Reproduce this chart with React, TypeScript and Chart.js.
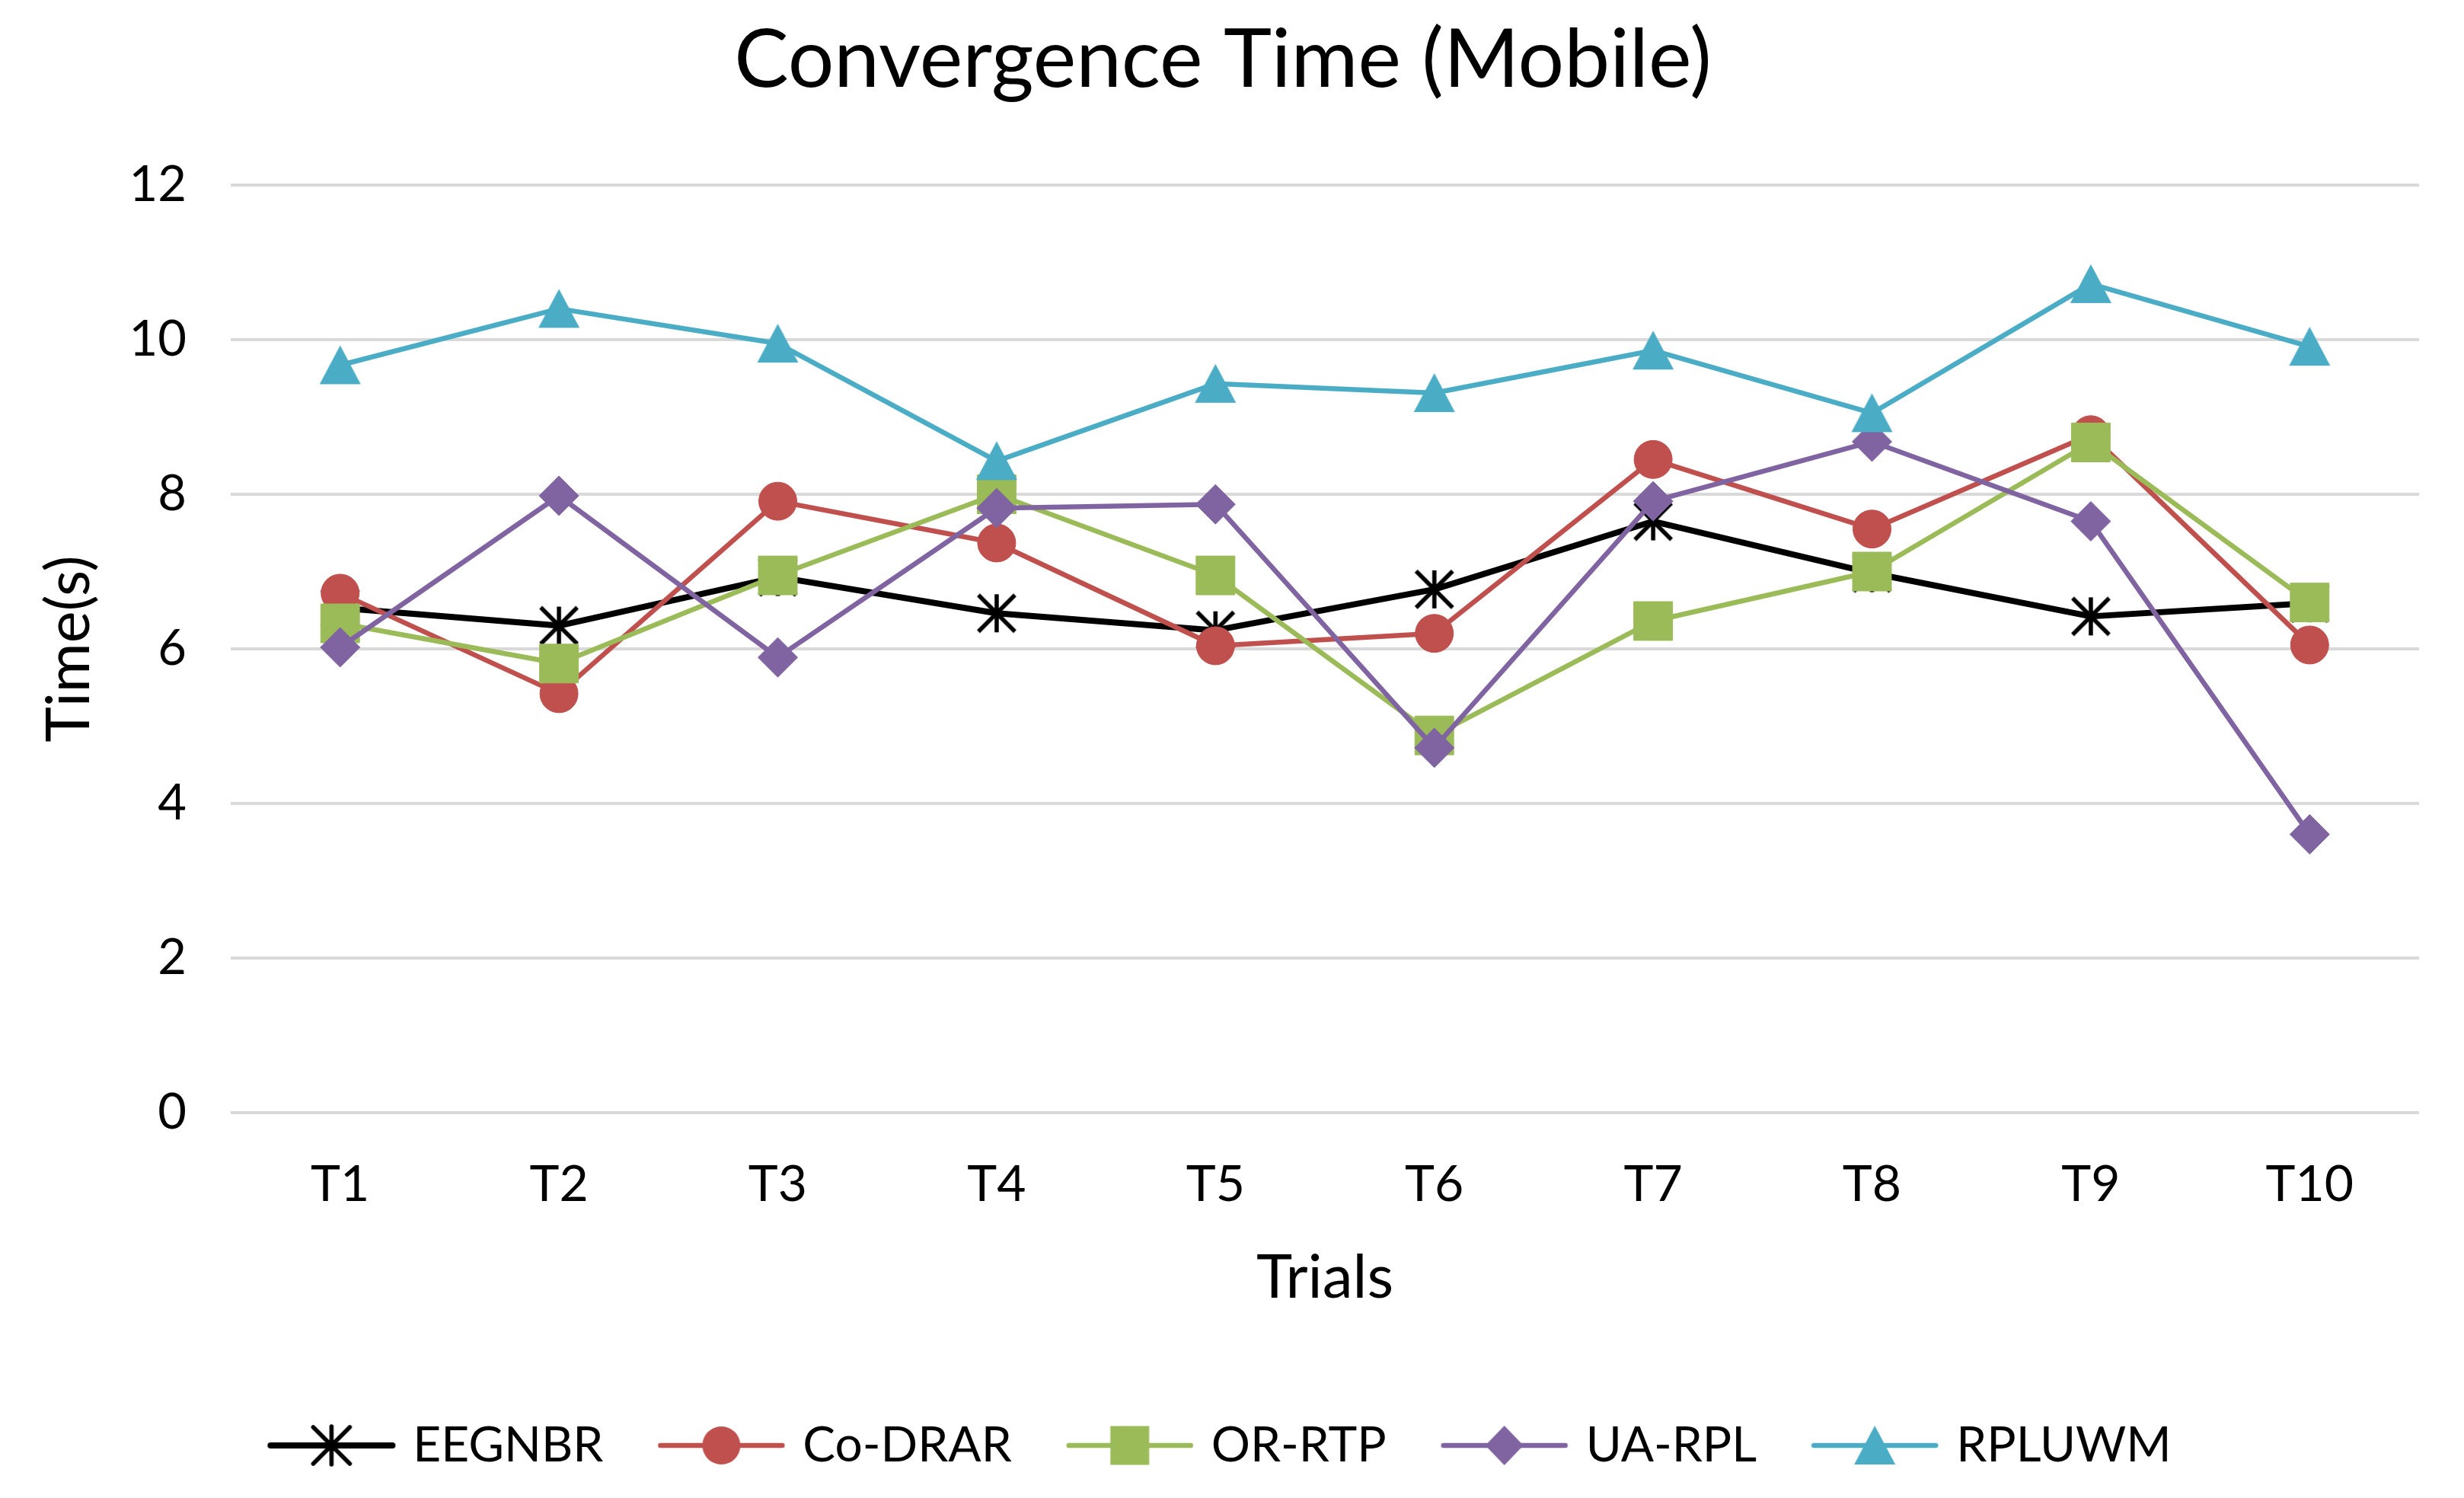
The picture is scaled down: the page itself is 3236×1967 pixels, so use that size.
import React, { useEffect, useRef } from 'react';
import { Chart, registerables } from 'chart.js';

Chart.register(...registerables);

// ---------- data ----------
const categories = ['T1', 'T2', 'T3', 'T4', 'T5', 'T6', 'T7', 'T8', 'T9', 'T10'];
const seriesNames = ['EEGNBR', 'Co-DRAR', 'OR-RTP', 'UA-RPL', 'RPLUWM'];
const eegnbr = [6.53, 6.3, 6.93, 6.46, 6.24, 6.77, 7.65, 6.98, 6.42, 6.59];
const coDrar = [6.72, 5.42, 7.91, 7.37, 6.04, 6.2, 8.45, 7.55, 8.77, 6.05];
const orRtp = [6.33, 5.81, 6.95, 8.0, 6.95, 4.88, 6.36, 7.0, 8.67, 6.6];
const uaRpl = [6.02, 7.98, 5.89, 7.82, 7.87, 4.72, 7.91, 8.68, 7.65, 3.6];
const rpluwm = [9.67, 10.4, 9.95, 8.43, 9.43, 9.31, 9.86, 9.05, 10.72, 9.91];
const seriesValues = [eegnbr, coDrar, orRtp, uaRpl, rpluwm];
const yMin = 0;
const yMax = 12;
const yStep = 2;
const chartTitle = 'Convergence Time (Mobile)';
const xTitle = 'Trials';
const yTitle = 'Time(s)';

// ---------- styles ----------
const W = 3236;
const H = 1967;
const FONT = 'Lato';
const seriesColors = ['#000000', '#C0504D', '#9BBB59', '#8064A2', '#4BACC6'];
const seriesLineWidths = [8, 6.5, 6.5, 6.5, 6.5];
type MarkerKind = 'asterisk' | 'circle' | 'square' | 'diamond' | 'triangle';
const seriesMarkers: MarkerKind[] = ['asterisk', 'circle', 'square', 'diamond', 'triangle'];

const PAD_LEFT = 35;
const PLOT_LEFT = 303;
const LEG_PAD = 80;
const LEG_FONT = 64;
const LEG_BOX_W = 150;
const LEG_IMG_W = 170;
const LAYOUT_BOTTOM = 27;
const PLOT_BOTTOM = 1461;
const LEG_H = LEG_FONT + LEG_PAD + 10;
const LEG_TOP = H - LAYOUT_BOTTOM - LEG_H;
const X_H = LEG_TOP - PLOT_BOTTOM;
const X_TITLE_FONT = 80;
const X_TITLE_PB = LEG_TOP - 1678 - (X_TITLE_FONT * 1.2) / 2;
const Y_TITLE_FONT = 79;
const Y_TITLE_PT = 92 - PAD_LEFT - (Y_TITLE_FONT * 1.2) / 2;
const TITLE_FONT = 107;
const TITLE_PT = 79 - (TITLE_FONT * 1.2) / 2;
const TITLE_PB = 243 - TITLE_PT - TITLE_FONT * 1.2;

function drawMarker(ctx: CanvasRenderingContext2D, kind: MarkerKind, cx: number, cy: number, color: string) {
  ctx.save();
  ctx.fillStyle = color;
  ctx.strokeStyle = color;
  ctx.beginPath();
  switch (kind) {
    case 'asterisk':
      ctx.lineWidth = 5.5;
      ctx.moveTo(cx, cy - 25);
      ctx.lineTo(cx, cy + 25);
      ctx.moveTo(cx - 24, cy - 24);
      ctx.lineTo(cx + 24, cy + 24);
      ctx.moveTo(cx + 24, cy - 24);
      ctx.lineTo(cx - 24, cy + 24);
      ctx.stroke();
      break;
    case 'circle':
      ctx.arc(cx, cy, 25, 0, Math.PI * 2);
      ctx.fill();
      break;
    case 'square':
      ctx.rect(cx - 25.5, cy - 25.5, 51, 51);
      ctx.fill();
      break;
    case 'diamond':
      ctx.moveTo(cx, cy - 26);
      ctx.lineTo(cx + 25, cy);
      ctx.lineTo(cx, cy + 26);
      ctx.lineTo(cx - 25, cy);
      ctx.closePath();
      ctx.fill();
      break;
    case 'triangle':
      ctx.moveTo(cx, cy - 26);
      ctx.lineTo(cx + 27, cy + 25);
      ctx.lineTo(cx - 27, cy + 25);
      ctx.closePath();
      ctx.fill();
      break;
  }
  ctx.restore();
}

function makeMarkerImage(kind: MarkerKind, color: string): HTMLCanvasElement {
  const c = document.createElement('canvas');
  c.width = 60;
  c.height = 60;
  const ctx = c.getContext('2d')!;
  drawMarker(ctx, kind, 30, 30, color);
  return c;
}

function makeLegendImage(i: number): HTMLCanvasElement {
  const c = document.createElement('canvas');
  c.width = LEG_IMG_W;
  c.height = 60;
  const ctx = c.getContext('2d')!;
  ctx.strokeStyle = seriesColors[i];
  ctx.lineWidth = seriesLineWidths[i];
  ctx.lineCap = 'round';
  ctx.beginPath();
  ctx.moveTo(5, 30);
  ctx.lineTo(LEG_IMG_W - 5, 30);
  ctx.stroke();
  drawMarker(ctx, seriesMarkers[i], LEG_IMG_W / 2, 30, seriesColors[i]);
  return c;
}

export default function App() {
  const ref = useRef<HTMLCanvasElement | null>(null);

  useEffect(() => {
    if (!ref.current) return;
    const legendImgs = seriesNames.map((_, i) => makeLegendImage(i));
    const datasets = seriesNames.map((name, i) => {
      const kind = seriesMarkers[i];
      let pointStyle: any = kind;
      let pointRadius = 25;
      if (kind === 'asterisk' || kind === 'triangle') pointStyle = makeMarkerImage(kind, seriesColors[i]);
      if (kind === 'circle') pointStyle = 'circle';
      if (kind === 'square') {
        pointStyle = 'rect';
        pointRadius = 36;
      }
      if (kind === 'diamond') {
        pointStyle = 'rectRot';
        pointRadius = 26;
      }
      return {
        label: name,
        data: seriesValues[i],
        borderColor: seriesColors[i],
        backgroundColor: seriesColors[i],
        borderWidth: seriesLineWidths[i],
        borderJoinStyle: 'round' as const,
        borderCapStyle: 'round' as const,
        tension: 0,
        pointStyle,
        pointRadius,
        pointHoverRadius: pointRadius,
        pointBorderWidth: 1,
        pointBackgroundColor: seriesColors[i],
        pointBorderColor: seriesColors[i],
        order: seriesNames.length - 1 - i,
      };
    });

    const chart = new Chart(ref.current, {
      type: 'line',
      data: { labels: categories, datasets },
      options: {
        animation: false,
        responsive: false,
        maintainAspectRatio: false,
        layout: { padding: { left: PAD_LEFT, right: 59, top: 0, bottom: LAYOUT_BOTTOM } },
        plugins: {
          tooltip: { enabled: false },
          title: {
            display: true,
            text: chartTitle,
            color: '#000',
            font: { family: FONT, size: TITLE_FONT, weight: 'normal', lineHeight: 1.2 },
            padding: { top: TITLE_PT, bottom: TITLE_PB },
          },
          legend: {
            display: true,
            position: 'bottom',
            labels: {
              usePointStyle: true,
              pointStyleWidth: LEG_BOX_W,
              padding: LEG_PAD,
              color: '#000',
              font: { family: FONT, size: LEG_FONT },
              generateLabels: (c: any) =>
                c.data.datasets.map((ds: any, i: number) => ({
                  text: ds.label,
                  pointStyle: legendImgs[i],
                  fillStyle: 'rgba(0,0,0,0)',
                  strokeStyle: 'rgba(0,0,0,0)',
                  lineWidth: 0,
                  hidden: false,
                  datasetIndex: i,
                  fontColor: '#000',
                })),
            },
          },
        },
        scales: {
          x: {
            type: 'category',
            offset: true,
            grid: { display: false, drawTicks: false },
            border: { display: false },
            ticks: {
              color: '#000',
              font: { family: FONT, size: 66 },
              padding: 55,
              maxRotation: 0,
              autoSkip: false,
            },
            title: {
              display: true,
              text: xTitle,
              color: '#000',
              font: { family: FONT, size: X_TITLE_FONT, lineHeight: 1.2 },
              padding: { top: 0, bottom: X_TITLE_PB },
            },
            afterFit: (s: any) => {
              s.height = X_H;
            },
          },
          y: {
            min: yMin,
            max: yMax,
            ticks: {
              stepSize: yStep,
              color: '#000',
              font: { family: FONT, size: 65 },
              padding: 58,
            },
            grid: { color: '#D9D9D9', lineWidth: 4, drawTicks: false },
            border: { display: false },
            title: {
              display: true,
              text: yTitle,
              color: '#000',
              font: { family: FONT, size: Y_TITLE_FONT, lineHeight: 1.2 },
              padding: { top: Y_TITLE_PT, bottom: 0 },
            },
            afterFit: (s: any) => {
              s.width = PLOT_LEFT - PAD_LEFT;
            },
          },
        },
      } as any,
    });
    return () => chart.destroy();
  }, []);

  return (
    <div style={{ position: 'absolute', left: 0, top: 0, width: W, height: H, background: '#fff' }}>
      <canvas ref={ref} width={W} height={H} style={{ display: 'block', width: W, height: H }} />
    </div>
  );
}
